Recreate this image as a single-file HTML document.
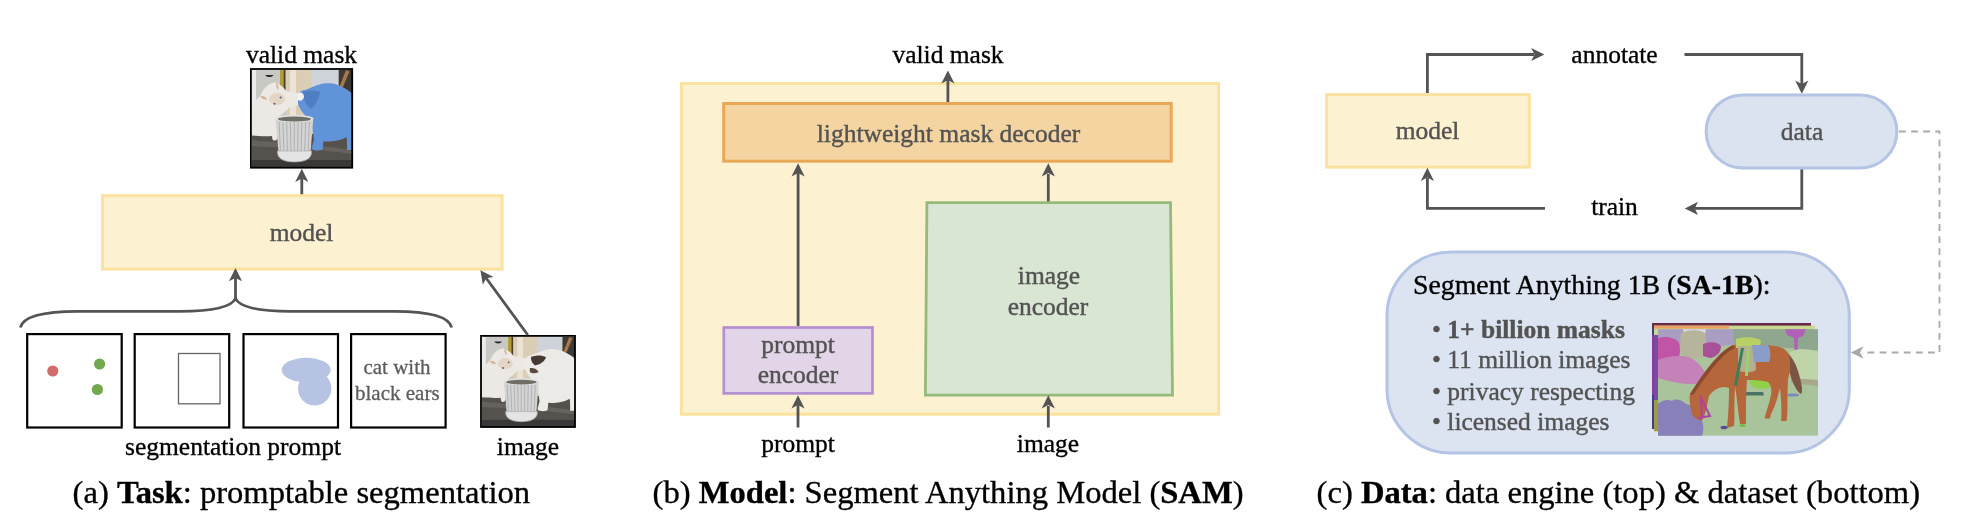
<!DOCTYPE html>
<html><head><meta charset="utf-8">
<style>
html,body{margin:0;padding:0;background:#fff;width:1972px;height:530px;overflow:hidden}
svg{display:block;will-change:transform}
text{font-family:"Liberation Serif",serif}
.lb{font-size:25.5px;fill:#000;stroke:#000;stroke-width:0.35}
.gl{font-size:25.5px;fill:#535353;stroke:#535353;stroke-width:0.4}
.cap{font-size:32.6px;fill:#000;stroke:#000;stroke-width:0.35}
.ar{stroke:#535456;stroke-width:2.8;fill:none}
.ah{fill:#535456}
</style></head><body>
<svg width="1972" height="530" viewBox="0 0 1972 530">
<defs>
<clipPath id="cpA"><rect x="251.8" y="69.9" width="100.4" height="97.8"/></clipPath>
<g id="sceneA">
  <rect x="251.8" y="69.9" width="100.4" height="97.8" fill="#4d4a47"/>
  <rect x="251.8" y="69.9" width="100.4" height="66" fill="#c8c8c4"/>
  <rect x="251.8" y="69.9" width="4.2" height="66" fill="#ebebe9"/>
  <path d="M265.3,75 L273.4,75 C272.5,77.8 266.2,77.8 265.3,75 Z" fill="#2a2a2a"/>
  <rect x="280" y="69.9" width="3.6" height="18" fill="#b49c38"/>
  <rect x="283.6" y="69.9" width="2.1" height="22" fill="#4a3e2c"/>
  <rect x="285.7" y="69.9" width="25.3" height="50" fill="#dccdb5"/>
  <rect x="290" y="69.9" width="6" height="50" fill="#ebe3d6"/>
  <rect x="311" y="69.9" width="27.7" height="25" fill="#cdd3d9"/>
  <rect x="338.7" y="69.9" width="13.5" height="30" fill="#3d3936"/>
  <path d="M346,70 L349.5,71.5 L342.5,88 L339.5,86.5 Z" fill="#a87848"/>
  <rect x="251.8" y="134" width="100.4" height="33.7" fill="#55514d"/>
  <path d="M251.8,140 C270,143 290,141 352.2,150 L352.2,154 C290,146 270,148 251.8,146 Z" fill="#66625e"/>
  <rect x="251.8" y="160" width="100.4" height="7.7" fill="#3a3836"/>
  <path d="M251.8,108 C254,102 257,98 260.2,96.5 C261,93 264,88 268,85 C271,83 274,82 276,82.8 C280,84.5 284,87.5 285.7,90.4 C289,91.5 294,92.5 298,93 C303,94 304,99 302,103 C299,106 294,106 290,107 C286,111 281,115 278,118 L277.5,138 C277,141 273,141.5 272.4,139 L272,136 C266,136.5 258,136 251.8,135.5 Z" fill="#ece9e4"/>
  <ellipse cx="277" cy="99" rx="8" ry="6" fill="#e5d5c5"/>
  <path d="M260.2,96.5 C263,95 266,96.5 267,99.5 C264,100 262,99 260.2,96.5 Z" fill="#d8b498"/>
  <path d="M276,82.8 C278,84 279,87 278.5,90 C276.5,88.5 275.8,86 276,82.8 Z" fill="#d8b498"/>
  <circle cx="274.5" cy="103.7" r="1" fill="#4c5a7a"/>
  <circle cx="280.6" cy="97.6" r="1" fill="#4c5a7a"/>
</g>
<path id="catR" d="M298,96 C299,92 302,90 305,90 C310,88 316,85.5 320.4,84.3 C324,83 327,83 329.6,83.3 C334,83.5 338,85 340.8,86.3 C345,88 349,91 352.2,93.5 L352.2,150 L347,150 C347,145 347,140 346.5,137 C340,141 330,142 323.4,141.5 C323,145 323,148 322.4,149.6 C319,151 314,151 312,149 C312,146 313,143 314,140 C313,132 312,125 310,120 C305,116 300,110 298,104 Z"/>
<g id="potA">
  <path d="M275.5,118.5 L313.3,118.5 L310.5,152 L278.5,152 Z" fill="#d4d4d4"/>
  <path d="M279,122 L280.5,151 M282.8,122 L284,151 M286.6,122 L287.4,151 M290.4,122 L290.9,151 M294.2,122 L294.3,151 M298,122 L297.8,151 M301.8,122 L301.2,151 M305.6,122 L304.7,151 M309.4,122 L308.2,151" stroke="#ababab" stroke-width="0.9"/>
  <ellipse cx="294.4" cy="118.5" rx="19" ry="3.6" fill="#e2e2e2"/>
  <ellipse cx="294.4" cy="119" rx="16.5" ry="2.6" fill="#6f6f68"/>
  <path d="M277.5,151 L311.5,151 C312,157 308,161.9 294.5,161.9 C281,161.9 277,157 277.5,151 Z" fill="#e4e4e4" stroke="#b0b0b0" stroke-width="0.8"/>
</g>
<path id="ahr" d="M0,0 L-13.2,-6.6 L-9.9,0 L-13.2,6.6 Z"/>
</defs>

<!-- ============ PANEL A ============ -->
<text class="lb" x="301.5" y="63" text-anchor="middle">valid mask</text>

<g clip-path="url(#cpA)">
  <use href="#sceneA"/>
  <use href="#catR" fill="#6193d9"/>
  <path d="M303,92 C308,90 315,90 320,92 C319,98 316,105 311,109 C307,106 303,100 303,92 Z" fill="#4f7fc2"/>
  <path d="M298,93 C301,91.5 304,93 304,97 C303,101 299,102 297.5,99 Z" fill="#f2f2f2"/>
  <use href="#potA"/>
</g>
<rect x="250.9" y="69" width="101.3" height="98.7" fill="none" stroke="#000" stroke-width="1.8"/>
<!-- arrow model -> mask -->
<line class="ar" x1="301.8" y1="195" x2="301.8" y2="178"/>
<use href="#ahr" class="ah" transform="translate(301.8,168.7) rotate(-90)"/>

<!-- model box -->
<rect x="102.5" y="195.7" width="399.6" height="73.4" fill="#fcf1d0" stroke="#fbe29f" stroke-width="3"/>
<text class="gl" x="301.5" y="241" text-anchor="middle">model</text>

<!-- brace -->
<path class="ar" d="M20.3,327.5 C23,316 45,311.3 78,311.3 L180,311.3 C215,311.3 232,306 235.5,298.5 C239,306 256,311.3 291,311.3 L394,311.3 C427,311.3 449,316 451.7,327.5"/>
<line class="ar" x1="235.5" y1="298.5" x2="235.5" y2="278"/>
<use href="#ahr" class="ah" transform="translate(235.5,268) rotate(-90)"/>

<!-- prompt boxes -->
<rect x="27.2" y="334.1" width="94.5" height="93.4" fill="#fff" stroke="#000" stroke-width="2.2"/>
<rect x="134.7" y="334.1" width="94.5" height="93.4" fill="#fff" stroke="#000" stroke-width="2.2"/>
<rect x="243.5" y="334.1" width="94.5" height="93.4" fill="#fff" stroke="#000" stroke-width="2.2"/>
<rect x="351.1" y="334.1" width="94.5" height="93.4" fill="#fff" stroke="#000" stroke-width="2.2"/>
<circle cx="52.8" cy="371" r="5.6" fill="#d26b6b"/>
<circle cx="99.6" cy="364" r="5.6" fill="#73a750"/>
<circle cx="97.4" cy="389.5" r="5.6" fill="#73a750"/>
<rect x="178.5" y="353.5" width="41.5" height="50.3" fill="none" stroke="#666" stroke-width="1.3"/>
<ellipse cx="306.2" cy="370" rx="24.5" ry="12.2" fill="#b6c3e2"/><ellipse cx="314.7" cy="388.5" rx="16.7" ry="17" fill="#b6c3e2"/>
<text class="gl" x="397" y="374.3" text-anchor="middle" style="font-size:21px;fill:#5c5c5c;stroke:#5c5c5c;stroke-width:0.3">cat with</text>
<text class="gl" x="397.3" y="399.8" text-anchor="middle" style="font-size:21px;fill:#5c5c5c;stroke:#5c5c5c;stroke-width:0.3">black ears</text>

<!-- image -->

<g transform="translate(481.9,336.8) scale(0.9273,0.9223) translate(-251.8,-69.9)" clip-path="url(#cpA)">
  <use href="#sceneA"/>
  <use href="#catR" fill="#ecebe8"/>
  <path d="M305,91.5 C310,89.5 317,89.5 321,92 C319,97 314,100 309,101 C306,98 304,95 305,91.5 Z" fill="#463832"/>
  <path d="M303.5,104 C307,103 311,105 313,108 C310,110 306,110 303.5,108 Z" fill="#5a4a40"/>
  <use href="#potA"/>
</g>
<rect x="481" y="335.9" width="94" height="91.1" fill="none" stroke="#000" stroke-width="1.8"/>
<line class="ar" x1="527.8" y1="335" x2="486.30" y2="278.27"/>
<use href="#ahr" class="ah" transform="translate(480.4,270.2) rotate(-126.18)"/>

<text class="lb" x="233" y="455" text-anchor="middle">segmentation prompt</text>
<text class="lb" x="528" y="455" text-anchor="middle">image</text>

<text class="cap" x="72.6" y="503">(a) <tspan font-weight="bold">Task</tspan>: promptable segmentation</text>

<!-- ============ PANEL B ============ -->
<text class="lb" x="948" y="62.5" text-anchor="middle">valid mask</text>
<rect x="681.5" y="83.5" width="537" height="330.7" fill="#fcf1d0" stroke="#fbe29f" stroke-width="3"/>
<line class="ar" x1="947.9" y1="103" x2="947.9" y2="80"/>
<use href="#ahr" class="ah" transform="translate(947.9,70.4) rotate(-90)"/>
<rect x="723.7" y="103.5" width="447.5" height="57.7" fill="#f4d4a0" stroke="#e9a858" stroke-width="3"/>
<text class="gl" x="948.5" y="142" text-anchor="middle">lightweight mask decoder</text>

<line class="ar" x1="798.1" y1="326" x2="798.1" y2="173"/>
<use href="#ahr" class="ah" transform="translate(798.1,163.2) rotate(-90)"/>
<line class="ar" x1="1048.3" y1="202" x2="1048.3" y2="174"/>
<use href="#ahr" class="ah" transform="translate(1048.3,163.2) rotate(-90)"/>

<path d="M926.9,202.6 L1170.5,202.6 L1172.5,395.2 L925.4,395.2 Z" fill="#d9e6d4" stroke="#95ba7a" stroke-width="2.8"/>
<text class="gl" x="1049" y="284.4" text-anchor="middle">image</text>
<text class="gl" x="1048" y="314.5" text-anchor="middle">encoder</text>

<rect x="723.8" y="327.5" width="148.7" height="65.9" fill="#e1d5e7" stroke="#b58fd2" stroke-width="2.7"/>
<text class="gl" x="798" y="353" text-anchor="middle">prompt</text>
<text class="gl" x="798" y="383" text-anchor="middle">encoder</text>

<line class="ar" x1="798" y1="427.5" x2="798" y2="405"/>
<use href="#ahr" class="ah" transform="translate(798,395.2) rotate(-90)"/>
<line class="ar" x1="1048.3" y1="427.5" x2="1048.3" y2="406"/>
<use href="#ahr" class="ah" transform="translate(1048.3,395.2) rotate(-90)"/>
<text class="lb" x="798" y="451.5" text-anchor="middle">prompt</text>
<text class="lb" x="1048" y="451.5" text-anchor="middle">image</text>

<text class="cap" x="652.6" y="503">(b) <tspan font-weight="bold">Model</tspan>: Segment Anything Model (<tspan font-weight="bold">SAM</tspan>)</text>

<!-- ============ PANEL C ============ -->
<rect x="1326.5" y="94.6" width="202.8" height="72.5" fill="#fcf1d0" stroke="#fbe29f" stroke-width="3"/>
<text class="gl" x="1427.5" y="139" text-anchor="middle">model</text>
<path class="ar" d="M1427.4,93 L1427.4,54.5 L1534,54.5"/>
<use href="#ahr" class="ah" transform="translate(1544.4,54.5)"/>
<path class="ar" d="M1684.5,54.5 L1801.8,54.5 L1801.8,84"/>
<use href="#ahr" class="ah" transform="translate(1801.8,93.8) rotate(90)"/>
<path class="ar" d="M1801.8,169 L1801.8,208.4 L1695,208.4"/>
<use href="#ahr" class="ah" transform="translate(1684.8,208.4) rotate(180)"/>
<path class="ar" d="M1545,208.4 L1427.4,208.4 L1427.4,178"/>
<use href="#ahr" class="ah" transform="translate(1427.4,167.7) rotate(-90)"/>

<rect x="1706.1" y="94.9" width="190.8" height="73.1" rx="36.5" ry="36.5" fill="#dce3f0" stroke="#b4c4e4" stroke-width="3"/>
<text class="gl" x="1802" y="139.5" text-anchor="middle">data</text>
<text class="lb" x="1614.5" y="62.8" text-anchor="middle">annotate</text>
<text class="lb" x="1614.5" y="215" text-anchor="middle">train</text>

<path d="M1899,131.5 L1939.5,131.5 L1939.5,352.5 L1862,352.5" fill="none" stroke="#a9a9a9" stroke-width="1.8" stroke-dasharray="6.8,5.3"/>
<path d="M1850.8,352.5 L1863.5,346.3 L1860,352.5 L1863.5,358.7 Z" fill="#a9a9a9"/>

<rect x="1387" y="252" width="462.3" height="201" rx="64" ry="64" fill="#dce3f1" stroke="#b4c4e4" stroke-width="3"/>
<text class="lb" x="1413" y="294" style="font-size:27.8px">Segment Anything 1B (<tspan font-weight="bold">SA-1B</tspan>):</text>
<text class="gl" x="1432" y="337.5">• <tspan font-weight="bold">1+ billion masks</tspan></text>
<text class="gl" x="1432" y="367.5">• 11 million images</text>
<text class="gl" x="1432" y="400">• privacy respecting</text>
<text class="gl" x="1432" y="430">• licensed images</text>

<g>
  <rect x="1652" y="323" width="159" height="106" fill="#3f3f86"/>
  <rect x="1652" y="323" width="159" height="4" fill="#6a2a4a"/>
  <rect x="1652" y="335" width="3" height="60" fill="#8a3aa0"/>
  <rect x="1654" y="325.6" width="161" height="106.2" fill="#c8d890"/>
  <rect x="1654" y="325.6" width="75" height="3" fill="#e9a060"/>
  <rect x="1654" y="335" width="4" height="90" fill="#7a4aa0"/>
  <rect x="1654" y="400" width="4" height="31" fill="#a09a40"/>
  <clipPath id="cph"><rect x="1658" y="329.2" width="160" height="106.6"/></clipPath>
  <g clip-path="url(#cph)">
    <rect x="1658" y="329.2" width="160" height="106.6" fill="#a9c49a"/>
    <path d="M1658,329 L1745,329 L1745,345 L1700,346 L1658,346 Z" fill="#a99dc2"/>
    <path d="M1683,329 L1706,329 L1705,335 L1684,335 Z" fill="#dcd8e6"/>
    <path d="M1733,329 L1818,329 L1818,350 C1805,350 1795,348 1785,348 C1770,345 1752,343 1734,343 Z" fill="#8fa78f"/>
    <path d="M1785,329 L1806,329 L1803,336 L1798,338 L1797,360 L1795,360 L1794,338 L1787,335 Z" fill="#b060b8"/>
    <path d="M1790,352 C1800,347 1812,350 1818,352 L1818,380 L1791,380 Z" fill="#c0d4aa"/>
    <path d="M1791,378 L1818,380 L1818,386 L1791,383 Z" fill="#a6a88a"/>
    <path d="M1658,338 C1665,336 1676,337 1679,343 C1681,350 1680,358 1676,363 L1658,364 Z" fill="#c055a8"/>
    <path d="M1681,333 C1690,329 1700,330 1705,333 C1707,340 1706,350 1703,357 C1695,359 1686,358 1681,354 C1680,347 1680,340 1681,333 Z" fill="#b7b49c"/>
    <path d="M1703,344 C1710,341 1718,342 1721,346 C1721,352 1717,357 1710,358 L1703,356 Z" fill="#a9509b"/>
    <path d="M1658,360 C1668,356 1680,355 1688,357 C1697,360 1704,368 1706,376 C1706,382 1700,384 1690,384 C1678,384 1665,380 1658,378 Z" fill="#c582b8"/>
    <path d="M1658,404 C1662,400 1668,399 1672,401 C1676,398 1682,400 1686,404 C1692,405 1698,410 1700,416 C1704,422 1704,430 1702,436 L1658,436 Z" fill="#8880b8"/>
    <path d="M1750,378 C1758,376 1772,377 1776,380 C1776,385 1770,389 1760,389 C1752,388 1748,383 1750,378 Z" fill="#8fd048"/>
    <path d="M1744,392 L1763,392 L1764,395.5 L1744,395.5 Z" fill="#4b7262"/>
    <ellipse cx="1793" cy="395" rx="6" ry="1.6" fill="#7a88ba"/>
    <path d="M1786,352 C1792,356 1797,365 1800,378 C1802,386 1803,392 1801,394 C1797,392 1793,384 1790,374 C1788,366 1787,358 1786,352 Z" fill="#7c5443"/>
    <path d="M1733,345 C1745,343 1765,344 1778,346.5 C1784,348 1788,351 1789,356 C1791,362 1790,372 1788,380 C1787,392 1788,405 1787,418 L1786.5,421 L1781,421 C1782,410 1781,398 1780,388 C1778,395 1776,405 1771,414 L1770,418.5 L1764.5,418.5 C1766,412 1769,405 1771,395 C1772,390 1771,385 1768,382 C1760,380 1752,380 1747,380 C1746,392 1746,410 1746,424 L1740,424 C1738,412 1737,398 1735,386 L1734.5,400 C1734,410 1735,418 1734,426 L1727,428 C1728,418 1729,405 1729,388 C1722,385 1714,389 1709,396 C1707,404 1706,415 1702,420.5 C1698,420.5 1694,418 1692,414 C1690,406 1689,398 1690,394 C1694,388 1700,378 1708,368 C1716,358 1724,349 1733,345 Z" fill="#b5663a"/>
    <path d="M1733,345 C1724,349 1716,358 1708,368 C1700,378 1694,388 1690,394 L1693,395 C1698,388 1704,379 1711,370 C1718,361 1726,352 1735,348 Z" fill="#8a4a30"/>
    <path d="M1736,339 C1744,336 1755,337 1761,340 L1760,348 C1752,347 1742,347 1736,348 Z" fill="#b8d066"/>
    <path d="M1738,346 L1755,346 L1756,370 C1752,373 1742,373 1738,370 Z" fill="#b6ae90"/>
    <path d="M1752,345 L1768,345 C1771,351 1771,357 1769,362 L1754,362 Z" fill="#8a9cc8"/>
    <path d="M1741,348 L1744,348 L1737,386 L1734,385 Z" fill="#3e7c5a"/>
    <path d="M1747,347 L1750,347 L1748,376 L1745,376 Z" fill="#9ad070"/>
    <path d="M1700,396 L1706,408 L1710,416 L1698,418 M1701,400 L1702,416" stroke="#b040a8" stroke-width="2" fill="none"/>
    <ellipse cx="1724" cy="427.5" rx="3.5" ry="1.8" fill="#5a4a90"/>
    <ellipse cx="1742.5" cy="425.5" rx="3" ry="1.6" fill="#70c040"/>
  </g>
</g>

<text class="cap" x="1316.6" y="503">(c) <tspan font-weight="bold">Data</tspan>: data engine (top) &amp; dataset (bottom)</text>
</svg>
</body></html>
